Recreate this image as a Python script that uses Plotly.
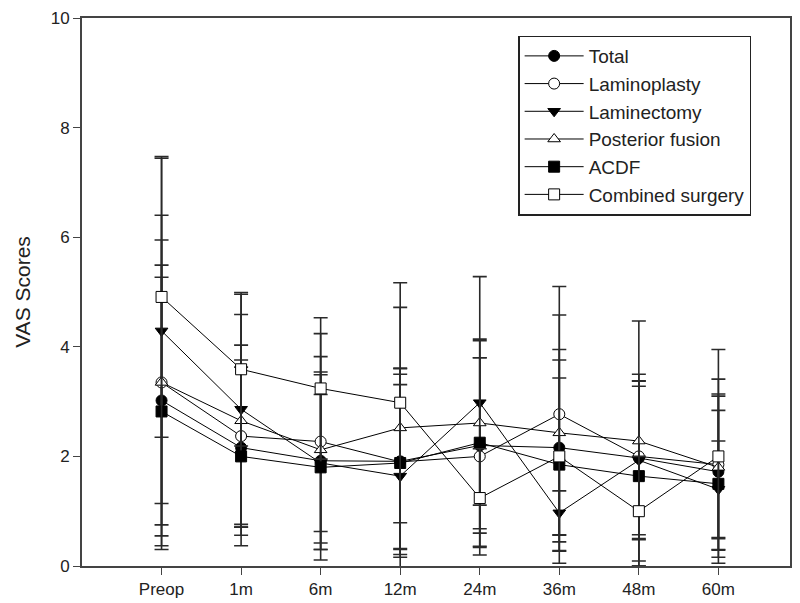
import plotly.graph_objects as go

times = ["Preop", "1m", "6m", "12m", "24m", "36m", "48m", "60m"]

total = [3.02, 2.16, 1.92, 1.91, 2.20, 2.16, 1.97, 1.72]
total_sd = [2.47, 1.60, 1.62, 1.70, 1.60, 1.60, 1.40, 1.42]
laminoplasty = [3.35, 2.37, 2.27, 1.90, 2.00, 2.77, 2.00, 1.85]
laminoplasty_sd = [3.05, 1.66, 1.97, 1.60, 1.80, 2.33, 1.50, 1.56]
laminectomy = [4.29, 2.86, 1.88, 1.64, 2.98, 0.97, 1.93, 1.40]
laminectomy_sd = [3.15, 2.10, 1.25, 1.67, 2.30, 0.40, 1.45, 0.88]
post_fusion = [3.35, 2.65, 2.12, 2.52, 2.61, 2.43, 2.28, 1.80]
post_fusion_sd = [2.60, 1.94, 1.70, 2.20, 1.50, 2.15, 2.19, 1.30]
acdf = [2.82, 2.00, 1.80, 1.88, 2.25, 1.85, 1.64, 1.50]
acdf_sd = [2.45, 1.63, 1.69, 1.72, 1.89, 1.58, 1.64, 1.34]
combined = [4.91, 3.59, 3.24, 2.98, 1.24, 2.00, 1.00, 2.00]
combined_sd = [2.56, 1.40, 1.29, 2.19, 0.90, 1.95, 1.00, 1.95]

x = list(range(1, len(times) + 1))

series = [
    ("Total", total, total_sd, "circle", "black"),
    ("Laminoplasty", laminoplasty, laminoplasty_sd, "circle", "white"),
    ("Laminectomy", laminectomy, laminectomy_sd, "triangle-down", "black"),
    ("Posterior fusion", post_fusion, post_fusion_sd, "triangle-up", "white"),
    ("ACDF", acdf, acdf_sd, "square", "black"),
    ("Combined surgery", combined, combined_sd, "square", "white"),
]

fig = go.Figure()
for name, vals, sd, sym, fill in series:
    fig.add_trace(go.Scatter(
        x=x, y=vals, name=name, mode="lines+markers",
        line=dict(color="black", width=1),
        marker=dict(symbol=sym, size=11, color=fill,
                    line=dict(color="black", width=1)),
        error_y=dict(type="data", array=sd, visible=True,
                     color="#2a2a2a", thickness=1.6, width=7),
    ))

fig.update_layout(
    width=800, height=603,
    margin=dict(l=74, r=18, t=10, b=45),
    plot_bgcolor="white", paper_bgcolor="white",
    font=dict(family="Liberation Sans, Arial, sans-serif", size=17, color="#222222"),
    legend=dict(
        x=0.616, y=0.968, xanchor="left", yanchor="top",
        bgcolor="white", bordercolor="#222222", borderwidth=1.5,
        font=dict(size=19), tracegroupgap=0, itemwidth=59,
    ),
)
fig.update_xaxes(
    range=[0, 8.9], tickvals=x, ticktext=times, automargin=False,
    showgrid=False, zeroline=False,
    showline=True, linecolor="#444444", linewidth=2, mirror=True,
    ticks="outside", ticklen=7, tickcolor="#444444",
)
fig.update_yaxes(
    range=[0, 10], tickvals=[0, 2, 4, 6, 8, 10], automargin=False,
    showgrid=False, zeroline=False,
    showline=True, linecolor="#444444", linewidth=2, mirror=True,
    ticks="outside", ticklen=7, tickcolor="#444444",
    title=dict(text="VAS Scores", font=dict(size=21), standoff=14),
)

fig.write_html("out.html")
